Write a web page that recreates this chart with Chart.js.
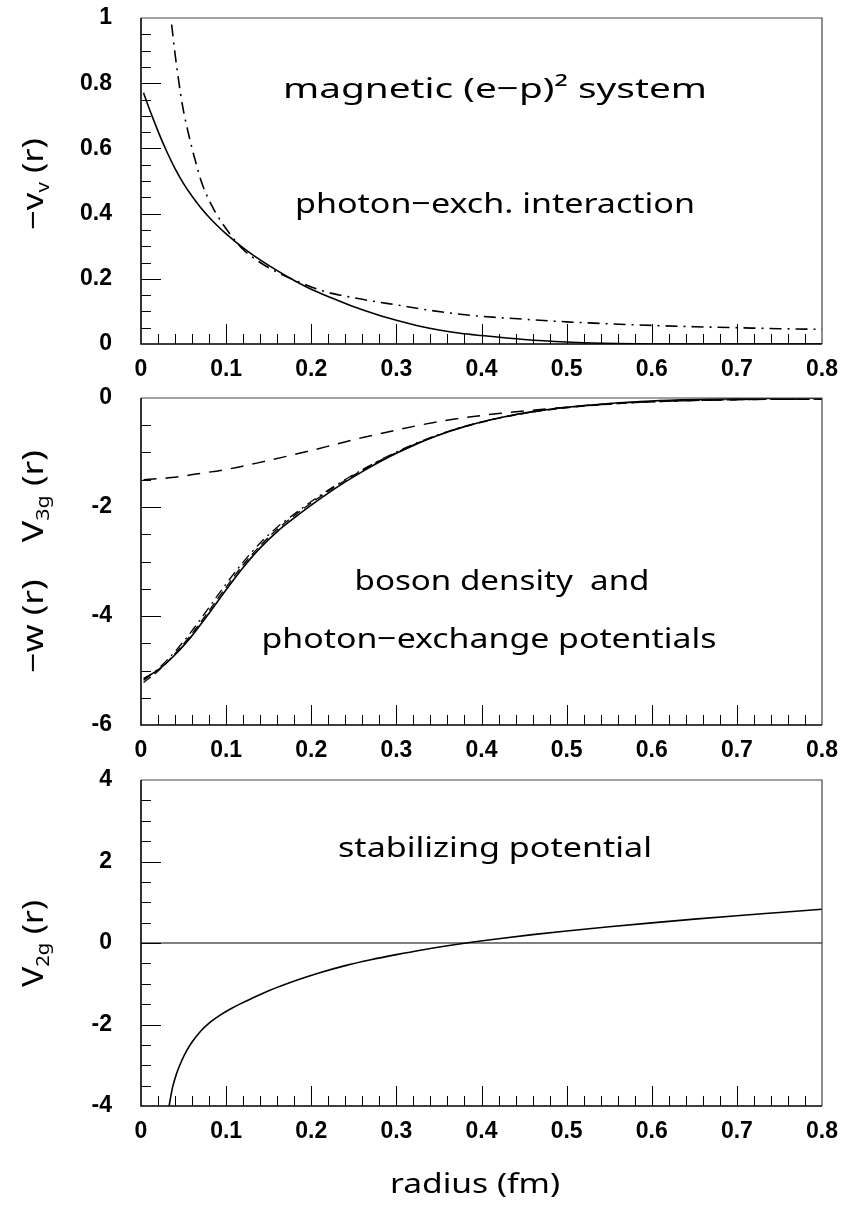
<!DOCTYPE html>
<html><head><meta charset="utf-8">
<script src="https://cdn.jsdelivr.net/npm/chart.js@4.4.1/dist/chart.umd.min.js"></script>
<style>
html,body{margin:0;padding:0;background:#fff;}
#wrap{position:relative;width:842px;height:1205px;overflow:hidden;background:#fff;}
canvas{position:absolute;left:0;}
</style></head><body>
<div id="wrap">
<canvas id="c1" width="842" height="380" style="top:0px;width:842px;height:380px"></canvas>
<canvas id="c2" width="842" height="380" style="top:380px;width:842px;height:380px"></canvas>
<canvas id="c3" width="842" height="445" style="top:760px;width:842px;height:445px"></canvas>
</div>
<script>
// ---------------- data ----------------
const radiusTickValues = [0,0.1,0.2,0.3,0.4,0.5,0.6,0.7,0.8];
const radiusTickLabels = ['0','0.1','0.2','0.3','0.4','0.5','0.6','0.7','0.8'];
const p1TickValues = [0,0.2,0.4,0.6,0.8,1];
const p1TickLabels = ['0','0.2','0.4','0.6','0.8','1'];
const p2TickValues = [-6,-4,-2,0];
const p2TickLabels = ['-6','-4','-2','0'];
const p3TickValues = [-4,-2,0,2,4];
const p3TickLabels = ['-4','-2','0','2','4'];

// panel 1: -v_v(r), solid and dash-dot
const p1SolidR = [0.003,0.008,0.015,0.022,0.03,0.04,0.05,0.06,0.07,0.08,0.09,0.10,0.12,0.14,0.16,0.18,0.20,0.225,0.25,0.275,0.30,0.325,0.35,0.375,0.40,0.45,0.50,0.53,0.56,0.60,0.70,0.80];
const p1SolidV = [0.771,0.734,0.686,0.640,0.592,0.538,0.492,0.453,0.419,0.389,0.362,0.338,0.295,0.258,0.225,0.195,0.168,0.14,0.114,0.092,0.073,0.056,0.043,0.033,0.026,0.014,0.006,0.003,0.001,0,0,0];
const p1DashDotR = [0.036,0.040,0.044,0.049,0.0555,0.063,0.072,0.086,0.103,0.12,0.14,0.16,0.18,0.2,0.22,0.24,0.26,0.28,0.3,0.33,0.36,0.4,0.45,0.5,0.55,0.6,0.65,0.7,0.75,0.8];
const p1DashDotV = [0.98,0.89,0.812,0.728,0.648,0.57,0.49,0.411,0.343,0.29,0.25,0.22,0.196,0.175,0.158,0.147,0.137,0.128,0.12,0.107,0.096,0.085,0.076,0.068,0.062,0.057,0.053,0.05,0.047,0.045];

// panel 2: -w(r) and V_3g(r)
const p2R = [0.003,0.02,0.04,0.06,0.08,0.10,0.12,0.14,0.16,0.18,0.20,0.22,0.24,0.26,0.28,0.30,0.32,0.34,0.36,0.38,0.40,0.43,0.46,0.50,0.55,0.60,0.65,0.70,0.80];
const p2SolidV = [-5.15,-4.99,-4.71,-4.36,-3.95,-3.52,-3.11,-2.75,-2.45,-2.20,-1.965,-1.745,-1.54,-1.35,-1.175,-1.015,-0.87,-0.74,-0.625,-0.525,-0.44,-0.335,-0.25,-0.17,-0.10,-0.055,-0.03,-0.015,0];
const p2DashV = [-5.22,-5.01,-4.69,-4.32,-3.90,-3.47,-3.06,-2.71,-2.41,-2.16,-1.925,-1.71,-1.51,-1.325,-1.155,-1.00,-0.86,-0.735,-0.625,-0.53,-0.445,-0.34,-0.26,-0.18,-0.115,-0.07,-0.045,-0.03,-0.02];
const p2DashDotV = [-5.18,-4.97,-4.65,-4.27,-3.84,-3.41,-3.01,-2.66,-2.37,-2.13,-1.90,-1.69,-1.495,-1.315,-1.145,-0.99,-0.85,-0.725,-0.615,-0.52,-0.44,-0.335,-0.255,-0.175,-0.11,-0.07,-0.045,-0.03,-0.02];
const p2UpperR = [0.003,0.036,0.067,0.104,0.136,0.167,0.2,0.231,0.262,0.294,0.325,0.357,0.388,0.42,0.46,0.5,0.55,0.6,0.65,0.7,0.8];
const p2UpperV = [-1.50,-1.46,-1.39,-1.30,-1.195,-1.085,-0.963,-0.84,-0.72,-0.61,-0.506,-0.415,-0.345,-0.285,-0.225,-0.17,-0.105,-0.065,-0.045,-0.03,-0.02];

// panel 3: V_2g(r)
const p3R = [0.033,0.037,0.042,0.048,0.054,0.06,0.07,0.08,0.093,0.105,0.116,0.13,0.148,0.165,0.187,0.21,0.24,0.27,0.3,0.33,0.36,0.39,0.42,0.46,0.5,0.55,0.6,0.65,0.7,0.75,0.8];
const p3V = [-4.0,-3.55,-3.19,-2.88,-2.63,-2.43,-2.165,-1.965,-1.77,-1.62,-1.50,-1.36,-1.19,-1.05,-0.885,-0.73,-0.555,-0.41,-0.285,-0.17,-0.068,0.024,0.105,0.205,0.295,0.40,0.495,0.585,0.67,0.75,0.83];
const p3ZeroR = [0, 0.8];
const p3ZeroV = [0, 0];

// ---------------- drawing helpers ----------------
const TEXT_FAMILY = '"Noto Sans", "DejaVu Sans", sans-serif';
const TICK_FONT = {family:'"Liberation Sans", Arial, sans-serif', weight:'bold', size:23};

function drawFit(ctx, text, cx, by, w, size){
  ctx.font = size + 'px ' + TEXT_FAMILY;
  const m = ctx.measureText(text).width;
  ctx.save();
  ctx.translate(cx, by);
  ctx.scale(w / m, 1);
  ctx.textAlign = 'center';
  ctx.textBaseline = 'alphabetic';
  ctx.fillStyle = '#000';
  ctx.fillText(text, 0, 0);
  ctx.restore();
}
function drawVert(ctx, segs, bx, cy, len, size){
  let total = 0;
  segs.forEach(s => { ctx.font = (s.sub ? size*0.6 : size) + 'px ' + TEXT_FAMILY; s.w = ctx.measureText(s.t).width; total += s.w; });
  ctx.save();
  ctx.translate(bx, cy);
  ctx.rotate(-Math.PI/2);
  ctx.scale(len/total, 1);
  ctx.fillStyle = '#000';
  ctx.textAlign = 'left';
  ctx.textBaseline = 'alphabetic';
  let x = -total/2;
  segs.forEach(s => { ctx.font = (s.sub ? size*0.6 : size) + 'px ' + TEXT_FAMILY; ctx.fillText(s.t, x, s.sub ? size*0.2 : 0); x += s.w; });
  ctx.restore();
}

const frameTicks = {
  id: 'frameTicks',
  afterDatasetsDraw(chart, args, opts) {
    const {ctx, chartArea: a, scales: {x, y}} = chart;
    ctx.save();
    ctx.strokeStyle = '#000';
    ctx.lineWidth = 1;
    ctx.beginPath();
    for (let i = 1; i < 40; i++) {
      const px = Math.round(x.getPixelForValue(i * 0.02)) + 0.5;
      const len = (i % 5 === 0) ? 20 : 10;
      ctx.moveTo(px, a.bottom); ctx.lineTo(px, a.bottom - len);
    }
    const n = Math.round((opts.ymax - opts.ymin) / opts.minor);
    for (let i = 1; i < n; i++) {
      const v = opts.ymin + i * opts.minor;
      const py = Math.round(y.getPixelForValue(v)) + 0.5;
      const len = (i % opts.per === 0) ? 20 : 10;
      ctx.moveTo(a.left, py); ctx.lineTo(a.left + len, py);
    }
    ctx.stroke();
    ctx.lineWidth = 1.2;
    ctx.strokeStyle = '#444';
    ctx.beginPath();
    ctx.moveTo(a.left, a.top); ctx.lineTo(a.right, a.top); ctx.lineTo(a.right, a.bottom);
    ctx.stroke();
    ctx.lineWidth = 1.6;
    ctx.strokeStyle = '#000';
    ctx.beginPath();
    ctx.moveTo(a.left, a.top); ctx.lineTo(a.left, a.bottom); ctx.lineTo(a.right, a.bottom);
    ctx.stroke();
    ctx.restore();
  },
  afterDraw(chart, args, opts) {
    const ctx = chart.ctx;
    (opts.texts || []).forEach(t => drawFit(ctx, t.text, t.cx, t.by, t.w, t.size));
    if (opts.ytitle) drawVert(ctx, opts.ytitle.segs, opts.ytitle.bx, opts.ytitle.cy, opts.ytitle.len, opts.ytitle.size);
  }
};

function ds(rs, vs, dash, w) {
  return {
    data: rs.map((r, i) => ({x: r, y: vs[i]})),
    showLine: true, borderColor: '#000', borderWidth: w || 1.6, borderDash: dash || [],
    pointRadius: 0, cubicInterpolationMode: 'monotone', fill: false
  };
}

function makeChart(id, c) {
  return new Chart(document.getElementById(id), {
    type: 'scatter',
    data: {datasets: c.datasets},
    options: {
      responsive: false, maintainAspectRatio: false, animation: false, devicePixelRatio: 1, events: [],
      layout: {padding: {left: 0, right: 20, top: c.top, bottom: 0}},
      plugins: {legend: {display: false}, tooltip: {enabled: false}, frameTicks: c.frame},
      scales: {
        x: {
          type: 'linear', min: 0, max: 0.8,
          afterBuildTicks: s => { s.ticks = radiusTickValues.map(v => ({value: v})); },
          ticks: {callback: (v, i) => radiusTickLabels[i], font: TICK_FONT, color: '#000', padding: 0, maxRotation: 0, autoSkip: false},
          grid: {display: true, drawOnChartArea: false, drawTicks: true, tickLength: 12, tickColor: 'rgba(0,0,0,0)'},
          border: {display: false},
          afterFit: s => { s.height = c.xh; }
        },
        y: {
          type: 'linear', min: c.ymin, max: c.ymax,
          afterBuildTicks: s => { s.ticks = c.yticks.map(v => ({value: v})); },
          ticks: {callback: (v, i) => c.ylabels[i], font: TICK_FONT, color: '#000', padding: 0, autoSkip: false},
          grid: {display: true, drawOnChartArea: false, drawTicks: true, tickLength: 29, tickColor: 'rgba(0,0,0,0)'},
          border: {display: false},
          afterFit: s => { s.width = 141; }
        }
      }
    },
    plugins: [frameTicks]
  });
}

makeChart('c1', {
  top: 18, xh: 36, ymin: 0, ymax: 1, yticks: p1TickValues, ylabels: p1TickLabels,
  datasets: [ds(p1SolidR, p1SolidV), ds(p1DashDotR, p1DashDotV, [12, 6, 2, 6])],
  frame: {ymin: 0, ymax: 1, minor: 0.05, per: 4,
    texts: [
      {text: 'magnetic (e\u2212p)\u00B2 system', cx: 495, by: 98, w: 424, size: 28},
      {text: 'photon\u2212exch. interaction', cx: 495, by: 213, w: 400, size: 28}
    ],
    ytitle: {segs: [{t: '\u2212v'}, {t: 'v', sub: true}, {t: ' (r)'}], bx: 43, cy: 184, len: 92, size: 29}
  }
});

makeChart('c2', {
  top: 18, xh: 35, ymin: -6, ymax: 0, yticks: p2TickValues, ylabels: p2TickLabels,
  datasets: [
    ds(p2R, p2SolidV),
    ds(p2R, p2DashV, [9, 5], 1.3),
    ds(p2R, p2DashDotV, [10, 5, 2, 5], 1.3),
    ds(p2UpperR, p2UpperV, [13, 9], 1.5)
  ],
  frame: {ymin: -6, ymax: 0, minor: 0.5, per: 4,
    texts: [
      {text: 'boson density  and', cx: 502, by: 210, w: 295, size: 28},
      {text: 'photon\u2212exchange potentials', cx: 489, by: 268, w: 455, size: 28}
    ],
    ytitle: {segs: [{t: '\u2212w (r)    V'}, {t: '3g', sub: true}, {t: ' (r)'}], bx: 43, cy: 181.5, len: 223, size: 29}
  }
});

makeChart('c3', {
  top: 20, xh: 99, ymin: -4, ymax: 4, yticks: p3TickValues, ylabels: p3TickLabels,
  datasets: [ds(p3ZeroR, p3ZeroV, [], 1.2), ds(p3R, p3V)],
  frame: {ymin: -4, ymax: 4, minor: 0.5, per: 4,
    texts: [
      {text: 'stabilizing potential', cx: 495, by: 97, w: 314, size: 28},
      {text: 'radius (fm)', cx: 475, by: 433, w: 170, size: 28}
    ],
    ytitle: {segs: [{t: 'V'}, {t: '2g', sub: true}, {t: ' (r)'}], bx: 43, cy: 183.5, len: 87, size: 29}
  }
});
</script>
</body></html>
